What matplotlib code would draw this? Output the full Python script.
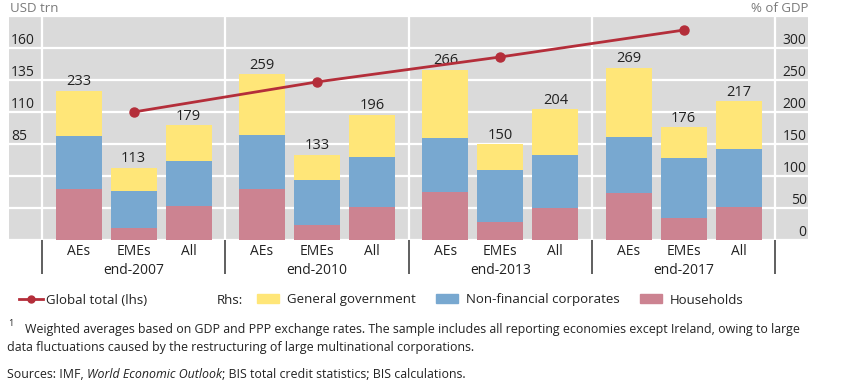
import matplotlib
matplotlib.use('Agg')
import matplotlib.pyplot as plt
from matplotlib.lines import Line2D
from matplotlib.patches import Patch
import matplotlib.transforms as mtransforms

plt.rcParams['font.family'] = ['Open Sans', 'DejaVu Sans']

# Data (rhs, % of GDP)
periods = ['end-2007', 'end-2010', 'end-2013', 'end-2017']
groups = ['AEs', 'EMEs', 'All']
households = [80, 19, 53, 80, 23, 51, 75, 28, 50, 73, 34, 52]
corporates = [83, 58, 70, 84, 71, 79, 85, 81, 83, 88, 94, 90]
government = [70, 36, 56, 95, 39, 66, 106, 41, 71, 108, 48, 75]
totals = [233, 113, 179, 259, 133, 196, 266, 150, 204, 269, 176, 217]
# Global total (lhs, USD trn)
global_total = [110, 133.5, 153, 174]

left_ticks = [85, 110, 135, 160]
right_ticks = [0, 50, 100, 150, 200, 250, 300]

c_gov = '#FFE678'
c_nfc = '#78A8D0'
c_hh = '#CC8391'
c_line = '#B42E3A'
c_bg = '#DADADA'
c_txt = '#222222'

W, H = 859, 390
fig = plt.figure(figsize=(W / 100, H / 100), dpi=100)
ax = fig.add_axes([9 / W, 1 - 240 / H, 799 / W, 224 / H])
ax2 = ax.twinx()
ax.set_facecolor(c_bg)
for a in (ax, ax2):
    for s in a.spines.values():
        s.set_visible(False)

gw = 10 / 3
pos = [g * gw + 2 / 3 + i for g in range(len(periods)) for i in range(len(groups))]
ax.set_xlim(-0.6, 13.927)
ax.set_ylim(0, 350)

for y in right_ticks + [350]:
    ax.axhline(y, color='white', lw=1.6, zorder=1)
for g in range(len(periods) + 1):
    ax.axvline(g * gw, color='white', lw=1.6, zorder=1)

bw = 0.84
ax.bar(pos, households, bw, color=c_hh, zorder=2)
ax.bar(pos, corporates, bw, bottom=households, color=c_nfc, zorder=2)
bot = [a + b for a, b in zip(households, corporates)]
ax.bar(pos, government, bw, bottom=bot, color=c_gov, zorder=2)
for x, t in zip(pos, totals):
    ax.annotate(str(t), (x, t), xytext=(0, 1), textcoords='offset points',
                ha='center', va='bottom', fontsize=10.5, color=c_txt, zorder=3)

# right axis labels (bars)
ax.yaxis.tick_right()
ax.set_yticks(right_ticks)
ax.tick_params(axis='y', length=0, pad=-1, labelsize=10, labelcolor=c_txt)
for lbl in ax.get_yticklabels():
    lbl.set_ha('right')
    lbl.set_va('bottom')

# x labels: bar groups (major) and periods (minor)
ax.xaxis.remove_overlapping_locs = False
ax.set_xticks(pos)
ax.set_xticklabels(groups * len(periods))
ax.set_xticks([g * gw + gw / 2 for g in range(len(periods))], minor=True)
ax.set_xticklabels(periods, minor=True)
ax.tick_params(axis='x', which='major', length=0, pad=3, labelsize=10, labelcolor=c_txt)
ax.tick_params(axis='x', which='minor', length=0, pad=16.5, labelsize=10, labelcolor=c_txt)

trans = mtransforms.blended_transform_factory(ax.transData, ax.transAxes)
ax.vlines([g * gw for g in range(len(periods) + 1)], -34 / 224, 0, transform=trans,
          color='#444444', lw=1.2, clip_on=False)

# line on lhs
ax2.set_ylim(10, 185)
ax2.plot([pos[1 + 3 * g] for g in range(len(periods))], global_total, color=c_line,
         lw=2, marker='o', markersize=6.5, zorder=5)
ax2.yaxis.tick_left()
ax2.set_yticks(left_ticks)
ax2.tick_params(axis='y', length=0, pad=-1.5, labelsize=10, labelcolor=c_txt)
for lbl in ax2.get_yticklabels():
    lbl.set_ha('left')
    lbl.set_va('bottom')

fig.text(10 / W, 1 - 8 / H, 'USD trn', fontsize=9.5, color='#7a7a7a', va='center', ha='left')
fig.text(808 / W, 1 - 8 / H, '% of GDP', fontsize=9.5, color='#7a7a7a', va='center', ha='right')

# legend
fig.legend([Line2D([], [], color=c_line, lw=2, marker='o', markersize=5)],
           ['Global total (lhs)'], loc='center left',
           bbox_to_anchor=(19 / W, 1 - 300 / H), frameon=False, fontsize=9.5,
           handlelength=1.8, handletextpad=0.25, borderpad=0, borderaxespad=0)
fig.text(217 / W, 1 - 300 / H, 'Rhs:', fontsize=9.5, va='center', ha='left', color=c_txt)
fig.legend([Patch(color=c_gov), Patch(color=c_nfc), Patch(color=c_hh)],
           ['General government', 'Non-financial corporates', 'Households'],
           loc='center left', bbox_to_anchor=(257 / W, 1 - 300 / H), ncol=3,
           frameon=False, fontsize=9.5, handlelength=1.7, handleheight=0.65,
           handletextpad=0.6, columnspacing=1.5, borderpad=0, borderaxespad=0)
for leg in fig.legends:
    for t in leg.get_texts():
        t.set_color(c_txt)

# footnotes
fs = 8.95
fig.text(8 / W, 1 - 324 / H, '1', fontsize=6.5, va='center', ha='left', color=c_txt)
fig.text(25 / W, 1 - 329 / H,
         'Weighted averages based on GDP and PPP exchange rates. The sample includes all '
         'reporting economies except Ireland, owing to large',
         fontsize=fs, va='center', ha='left', color=c_txt)
fig.text(7 / W, 1 - 347 / H,
         'data fluctuations caused by the restructuring of large multinational corporations.',
         fontsize=fs, va='center', ha='left', color=c_txt)

renderer = fig.canvas.get_renderer()
x = 7 / W
for part, style in [('Sources: IMF, ', 'normal'), ('World Economic Outlook', 'italic'),
                    ('; BIS total credit statistics; BIS calculations.', 'normal')]:
    t = fig.text(x, 1 - 374 / H, part, fontsize=fs, style=style, va='center', ha='left',
                 color=c_txt)
    bb = t.get_window_extent(renderer)
    x = bb.x1 / W

fig.savefig('out.png', dpi=100)
